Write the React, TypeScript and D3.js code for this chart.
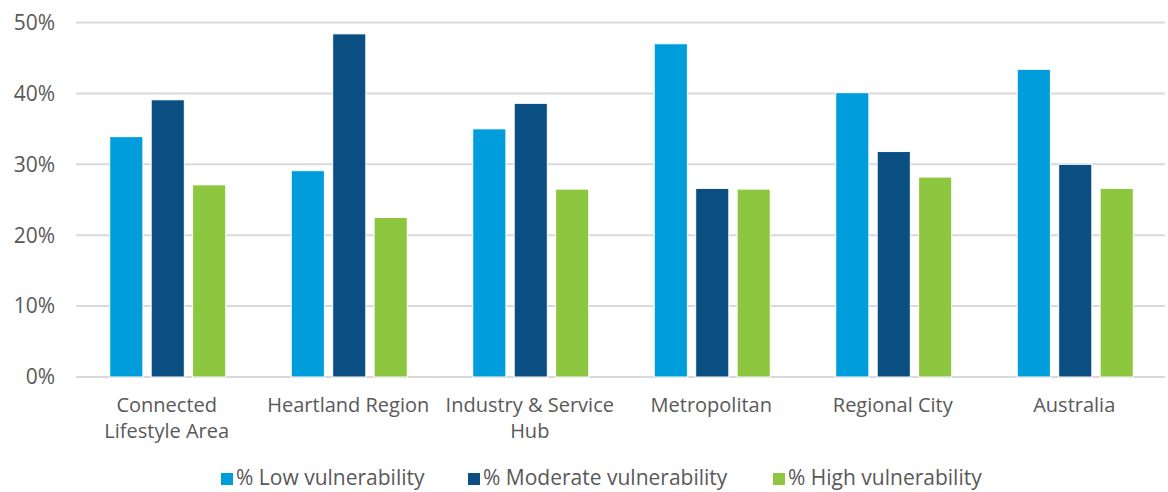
import { useEffect, useRef } from "react"
import * as d3 from "d3"

const categories = ["Connected Lifestyle Area", "Heartland Region", "Industry & Service Hub", "Metropolitan", "Regional City", "Australia"]
const categoryLines = [["Connected", "Lifestyle Area"], ["Heartland Region"], ["Industry & Service", "Hub"], ["Metropolitan"], ["Regional City"], ["Australia"]]
const seriesNames = ["% Low vulnerability", "% Moderate vulnerability", "% High vulnerability"]
const lowValues = [33.9, 29.1, 35.0, 47.0, 40.1, 43.4]
const moderateValues = [39.1, 48.4, 38.6, 26.6, 31.8, 30.0]
const highValues = [27.1, 22.5, 26.5, 26.5, 28.2, 26.6]
const yTicks = [0, 10, 20, 30, 40, 50]

const colors = ["#009ddc", "#0b4f82", "#8dc63f"]
const FONT = "'Open Sans', 'DejaVu Sans', sans-serif"

export default function App() {
  const svgRef = useRef<SVGSVGElement>(null)

  useEffect(() => {
    if (!svgRef.current) return
    const svg = d3.select(svgRef.current)
    svg.selectAll("*").remove()

    const width = 1168
    const height = 492
    const margin = { top: 22.5, right: 3, bottom: 115, left: 76 }
    const innerWidth = width - margin.left - margin.right
    const innerHeight = height - margin.top - margin.bottom

    const g = svg.append("g").attr("transform", `translate(${margin.left},${margin.top})`)

    const x0 = d3.scaleBand().domain(categories).range([0, innerWidth]).paddingInner(0).paddingOuter(0)
    const x1 = d3.scaleBand().domain(seriesNames).range([x0.bandwidth() / 2 - 57, x0.bandwidth() / 2 + 59]).paddingInner(0.2).paddingOuter(0)
    const y = d3.scaleLinear().domain([0, 50]).range([innerHeight, 0])

    // gridlines
    g.selectAll("line.grid")
      .data(yTicks)
      .join("line")
      .attr("x1", 0)
      .attr("x2", innerWidth)
      .attr("y1", (d) => y(d))
      .attr("y2", (d) => y(d))
      .attr("stroke", "#d9d9d9")
      .attr("stroke-width", 2)

    // y labels
    g.selectAll("text.ytick")
      .data(yTicks)
      .join("text")
      .attr("x", -21)
      .attr("y", (d) => y(d))
      .attr("dy", "0.35em")
      .attr("text-anchor", "end")
      .attr("fill", "#595959")
      .style("font-family", FONT)
      .style("font-size", "21px")
      .text((d) => `${d}%`)

    const series = [lowValues, moderateValues, highValues]

    const groups = g.selectAll("g.cat")
      .data(categories)
      .join("g")
      .attr("transform", (d) => `translate(${x0(d)},0)`)

    groups.each(function (cat, ci) {
      const grp = d3.select(this)
      series.forEach((vals, si) => {
        grp.append("rect")
          .attr("x", x1(seriesNames[si]) as number)
          .attr("y", y(vals[ci]))
          .attr("width", x1.bandwidth())
          .attr("height", innerHeight - y(vals[ci]))
          .attr("fill", colors[si])
          .attr("stroke", "white")
          .attr("stroke-width", 1)
      })
      categoryLines[ci].forEach((line, li) => {
        grp.append("text")
          .attr("x", x0.bandwidth() / 2)
          .attr("y", innerHeight + 35 + li * 26)
          .attr("text-anchor", "middle")
          .attr("fill", "#595959")
          .style("font-family", FONT)
          .style("font-size", "20px")
          .text(line)
      })
    })

    // legend
    const legendX = [221, 468, 773]
    const legend = svg.append("g")
    seriesNames.forEach((name, i) => {
      legend.append("rect")
        .attr("x", legendX[i])
        .attr("y", 473)
        .attr("width", 12)
        .attr("height", 12)
        .attr("fill", colors[i])
      legend.append("text")
        .attr("x", legendX[i] + 15)
        .attr("y", 485)
        .attr("fill", "#595959")
        .style("font-family", FONT)
        .style("font-size", "21px")
        .text(name)
    })
  }, [])

  return (
    <svg
      ref={svgRef}
      width={1168}
      height={492}
      style={{ position: "absolute", left: 0, top: 0, background: "white" }}
    />
  )
}
